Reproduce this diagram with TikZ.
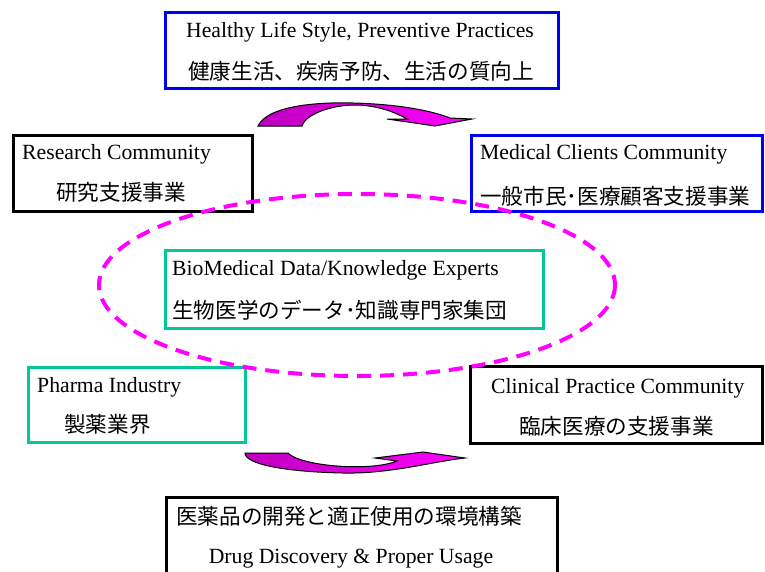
\documentclass[tikz,border=0pt]{standalone}
\usepackage{fontspec}
\setmainfont{Liberation Serif}
\newfontfamily\jpfont{Noto Sans CJK JP}

\definecolor{boxblue}{RGB}{0,0,240}
\definecolor{boxteal}{RGB}{0,200,150}
\definecolor{arcdark}{RGB}{190,0,190}
\definecolor{arclight}{RGB}{255,0,255}

\tikzset{
    box/.style={draw, line width=3pt, inner sep=0pt, anchor=north west},
    entext/.style={anchor=base west, inner sep=0pt, font=\fontsize{21.7}{26}\selectfont},
    jptext/.style={anchor=west, inner sep=0pt, font=\jpfont\fontsize{21.6}{26}\selectfont},
    curvedarrow/.style={draw=black, line width=1pt, left color=arcdark, right color=arclight},
}

\begin{document}
\begin{tikzpicture}[x=1pt, y=-1pt]
    \clip (0,0) rectangle (765,571);

    % Boxes
    \node[box, draw=boxblue, minimum width=393, minimum height=76] (lifestyle) at (164,11) {};
    \node[box, minimum width=239, minimum height=76] (research) at (12,134) {};
    \node[box, draw=boxblue, minimum width=291, minimum height=76] (clients) at (470,134) {};
    \node[box, draw=boxteal, minimum width=378, minimum height=78] (experts) at (164,249) {};
    \node[box, draw=boxteal, minimum width=217, minimum height=75] (pharma) at (27,366) {};
    \node[box, minimum width=292, minimum height=77] (clinical) at (469,365) {};
    \node[box, minimum width=391, minimum height=110] (drug) at (165,496) {};

    % Texts
    \node[entext, anchor=base] (lifestyle-en) at (360,37) {Healthy Life Style, Preventive Practices};
    \node[jptext, anchor=center] (lifestyle-jp) at (361,71) {健康生活、疾病予防、生活の質向上};

    \node[entext] (research-en) at (22,159) {Research Community};
    \node[jptext] (research-jp) at (56,192) {研究支援事業};

    \node[entext] (clients-en) at (480,159) {Medical Clients Community};
    \node[jptext] (clients-jp) at (480,196) {一般市民･医療顧客支援事業};

    \node[entext] (experts-en) at (172,275) {BioMedical Data/Knowledge Experts};
    \node[jptext] (experts-jp) at (172,310) {生物医学のデータ･知識専門家集団};

    \node[entext] (pharma-en) at (37,392) {Pharma Industry};
    \node[jptext] (pharma-jp) at (64,424) {製薬業界};

    \node[entext] (clinical-en) at (491,393) {Clinical Practice Community};
    \node[jptext] (clinical-jp) at (519,426) {臨床医療の支援事業};

    \node[jptext] (drug-jp) at (176,516) {医薬品の開発と適正使用の環境構築};
    \node[entext, anchor=base] (drug-en) at (351,563) {Drug Discovery \& Proper Usage};

    % Dashed ring
    \draw[arclight, line width=4pt, dash pattern=on 14pt off 9pt]
        (357,285) ellipse [x radius=258, y radius=91];

    % Curved arrows
    \draw[curvedarrow] (258,126) .. controls (268,105) and (320,102) .. (353,103)
        .. controls (395,104) and (430,110) .. (450,118)
        -- (472,119) -- (435,126) -- (387,119) -- (407,119)
        .. controls (390,109) and (370,105) .. (355,105)
        .. controls (330,105) and (305,115) .. (302,126) -- cycle;
    \draw[curvedarrow] (245,453) -- (288,453)
        .. controls (300,466) and (370,472) .. (397,461)
        -- (375,458) -- (423,452) -- (465,458)
        .. controls (430,462) and (390,474) .. (343,473)
        .. controls (290,472) and (245,465) .. (245,453) -- cycle;
\end{tikzpicture}
\end{document}
